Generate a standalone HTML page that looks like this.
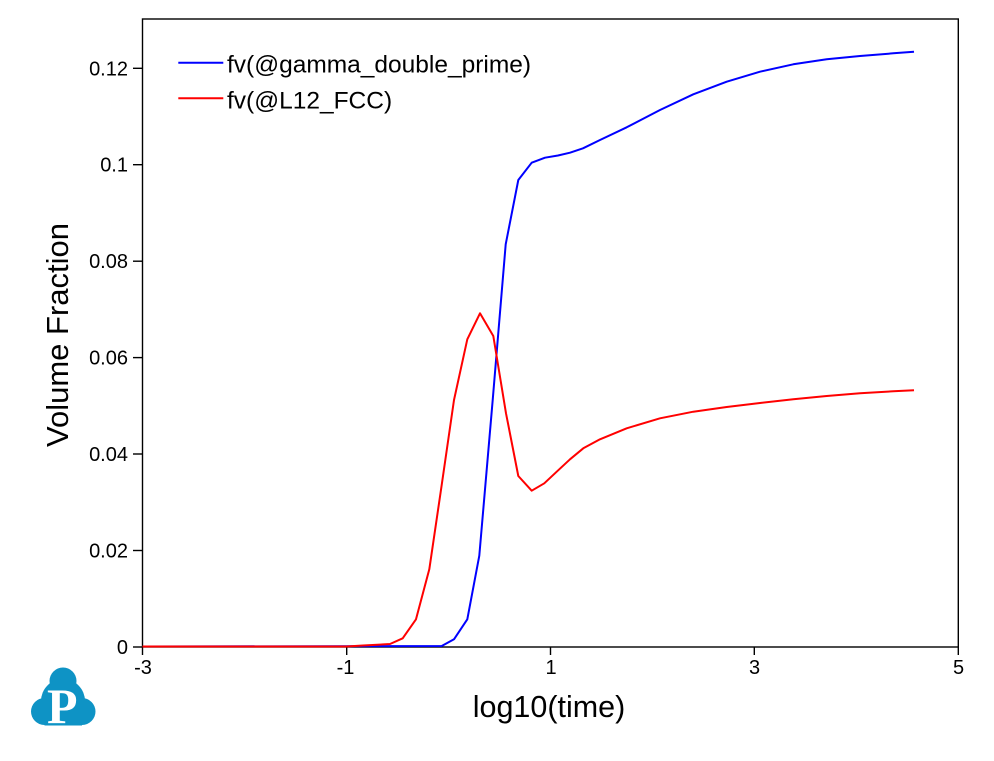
<!DOCTYPE html>
<html>
<head>
<meta charset="utf-8">
<style>
  html, body { margin:0; padding:0; background:#fff; }
  body { width:994px; height:761px; overflow:hidden; }
  svg { display:block; }
  text { font-family: "Liberation Sans", Arial, sans-serif; fill:#000; }
</style>
</head>
<body>
<svg width="994" height="761" viewBox="0 0 994 761" xmlns="http://www.w3.org/2000/svg">
  <rect x="0" y="0" width="994" height="761" fill="#fff"/>

  <!-- plot frame -->
  <rect x="142.5" y="19" width="815.8" height="628" fill="none" stroke="#000" stroke-width="1.4"/>

  <!-- y ticks -->
  <g stroke="#000" stroke-width="1.4">
    <line x1="133" y1="647" x2="142.5" y2="647"/>
    <line x1="133" y1="550.5" x2="142.5" y2="550.5"/>
    <line x1="133" y1="454" x2="142.5" y2="454"/>
    <line x1="133" y1="357.6" x2="142.5" y2="357.6"/>
    <line x1="133" y1="261.2" x2="142.5" y2="261.2"/>
    <line x1="133" y1="164.7" x2="142.5" y2="164.7"/>
    <line x1="133" y1="68.3" x2="142.5" y2="68.3"/>
  </g>
  <g font-size="20" text-anchor="end">
    <text x="128" y="654">0</text>
    <text x="128" y="557.5">0.02</text>
    <text x="128" y="461">0.04</text>
    <text x="128" y="364.6">0.06</text>
    <text x="128" y="268.2">0.08</text>
    <text x="128" y="171.7">0.1</text>
    <text x="128" y="75.3">0.12</text>
  </g>

  <!-- x ticks -->
  <g stroke="#000" stroke-width="1.4">
    <line x1="142.5" y1="647" x2="142.5" y2="655"/>
    <line x1="346.7" y1="647" x2="346.7" y2="655"/>
    <line x1="550.5" y1="647" x2="550.5" y2="655"/>
    <line x1="754.3" y1="647" x2="754.3" y2="655"/>
    <line x1="958.3" y1="647" x2="958.3" y2="655"/>
  </g>
  <g font-size="20" text-anchor="middle">
    <text x="143" y="674">-3</text>
    <text x="345.5" y="674">-1</text>
    <text x="551" y="674">1</text>
    <text x="754.5" y="674">3</text>
    <text x="958.5" y="674">5</text>
  </g>

  <!-- axis titles -->
  <text x="549" y="717" font-size="30.5" text-anchor="middle">log10(time)</text>
  <text transform="translate(68,335) rotate(-90)" font-size="31" text-anchor="middle">Volume Fraction</text>

  <!-- blue series -->
  <polyline fill="none" stroke="#0000ff" stroke-width="2" stroke-linejoin="round"
    points="142.5,646.5 441.7,646 454,639.3 467.3,619.3 479.3,555.7 492.7,400 505.7,244.3 518.3,180 531.7,162.7 545,157.7 558,155.5 570,152.7 583,148.3 600,140 626.7,127.3 660,110 693.3,94.3 726.7,81.7 760,71.7 793.3,64.3 826.7,59.3 860,56 893.3,53.3 914,51.7"/>

  <!-- red series -->
  <polyline fill="none" stroke="#ff0000" stroke-width="2" stroke-linejoin="round"
    points="142.5,646.5 346.7,646.5 363,645.5 390,644 402.7,638.3 416,619.3 429.3,569.3 441.7,485 454,400 467.3,339.3 480,313.3 493.3,336 506,413.3 518.3,476 531.7,490.7 544.3,483.3 556.7,471.7 570,459.3 583.3,448.3 600,439.3 626.7,428.3 660,418.3 693.3,411.7 726.7,407 760,403 793.3,399.3 826.7,396 860,393.3 893.3,391.3 914,390.3"/>

  <!-- legend -->
  <line x1="178.3" y1="62.7" x2="223.3" y2="62.7" stroke="#0000ff" stroke-width="2"/>
  <line x1="178.3" y1="98.3" x2="223.3" y2="98.3" stroke="#ff0000" stroke-width="2"/>
  <text x="227" y="72.3" font-size="24.5">fv(@gamma_double_prime)</text>
  <text x="227" y="108.3" font-size="24.5">fv(@L12_FCC)</text>

  <!-- logo -->
  <g fill="#0e93c5">
    <circle cx="63" cy="681" r="13.5"/>
    <circle cx="63" cy="701" r="22"/>
    <circle cx="44.5" cy="711.5" r="13.5"/>
    <circle cx="82" cy="711.5" r="13.5"/>
    <rect x="44.5" y="705" width="37.5" height="20.5"/>
  </g>
  <text x="47" y="723" style="font-family:'Liberation Serif', 'DejaVu Serif', serif; font-weight:bold; font-size:50px; fill:#fff;">P</text>
</svg>
</body>
</html>
